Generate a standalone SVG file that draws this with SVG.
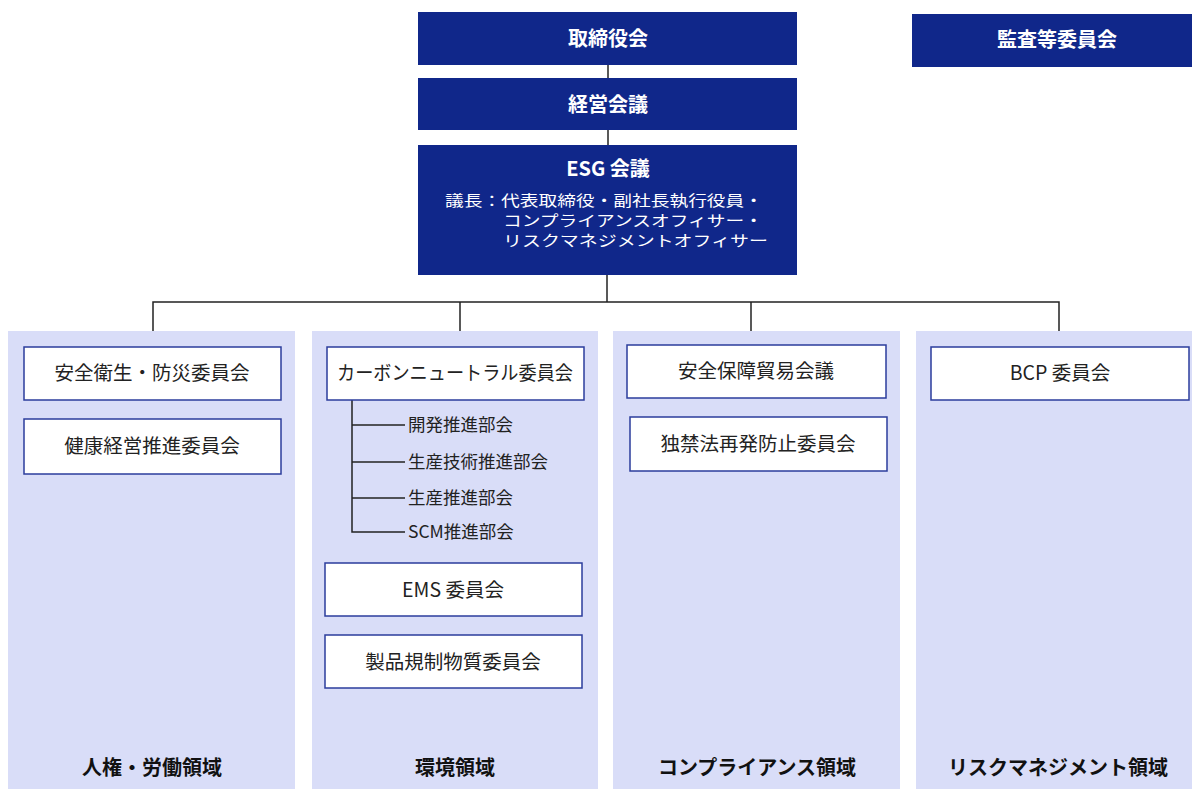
<svg xmlns="http://www.w3.org/2000/svg" width="1192" height="789" viewBox="0 0 1192 789">
<style>
.top{fill:#10278A}
.tt{font-family:"Noto Sans CJK JP",sans-serif;font-weight:bold;fill:#fff;text-anchor:middle}
.tw{font-family:"Noto Sans CJK JP",sans-serif;fill:#fff}
.panel{fill:#D9DDF8}
.box{fill:#fff;stroke:#2B3D9C;stroke-width:1.5}
.bt{font-family:"Noto Sans CJK JP",sans-serif;font-size:19.5px;fill:#222;text-anchor:middle}
.st{font-family:"Noto Sans CJK JP",sans-serif;font-size:17.5px;fill:#222}
.ft{font-family:"Noto Sans CJK JP",sans-serif;font-size:20px;font-weight:bold;fill:#111;text-anchor:middle}
.ln{stroke:#222;stroke-width:1.5;fill:none}
</style>
<rect width="1192" height="789" fill="#fff"/>
<g id="panels">
<rect class="panel" x="8" y="331" width="287" height="458"/>
<rect class="panel" x="312" y="331" width="286" height="458"/>
<rect class="panel" x="613" y="331" width="287" height="458"/>
<rect class="panel" x="916" y="331" width="276" height="458"/>
</g>
<g id="connectors">
<line class="ln" x1="608" y1="65" x2="608" y2="78"/>
<line class="ln" x1="608" y1="130" x2="608" y2="145"/>
<line class="ln" x1="607" y1="275" x2="607" y2="302" stroke-width="2.5"/>
<polyline class="ln" points="153,331 153,302 1059,302 1059,331"/>
<line class="ln" x1="460" y1="302" x2="460" y2="331"/>
<line class="ln" x1="751" y1="302" x2="751" y2="331"/>
<polyline class="ln" points="352,400 352,532 405,532"/>
<line class="ln" x1="352" y1="425" x2="405" y2="425"/>
<line class="ln" x1="352" y1="462" x2="405" y2="462"/>
<line class="ln" x1="352" y1="498" x2="405" y2="498"/>
</g>
<g id="board">
<rect class="top" x="418" y="12" width="379" height="53"/>
<text class="tt" x="608" y="46" font-size="20">取締役会</text>
</g>
<g id="audit">
<rect class="top" x="912" y="14" width="280" height="53"/>
<text class="tt" x="1057" y="47" font-size="20">監査等委員会</text>
</g>
<g id="mgmt">
<rect class="top" x="418" y="78" width="379" height="52"/>
<text class="tt" x="608" y="112" font-size="20">経営会議</text>
</g>
<g id="esg">
<rect class="top" x="418" y="145" width="379" height="130"/>
<text class="tt" x="608" y="176" font-size="20">ESG 会議</text>
<text class="tw" x="445" y="206" font-size="15" textLength="318" lengthAdjust="spacingAndGlyphs">議長：代表取締役・副社長執行役員・</text>
<text class="tw" x="503" y="226" font-size="15" textLength="260" lengthAdjust="spacingAndGlyphs">コンプライアンスオフィサー・</text>
<text class="tw" x="503" y="246" font-size="15" textLength="265" lengthAdjust="spacingAndGlyphs">リスクマネジメントオフィサー</text>
</g>
<g id="n1">
<rect class="box" x="24" y="347" width="257" height="53"/>
<text class="bt" x="152" y="380">安全衛生・防災委員会</text>
</g>
<g id="n2">
<rect class="box" x="24" y="419" width="257" height="55"/>
<text class="bt" x="152" y="453">健康経営推進委員会</text>
</g>
<g id="n3">
<rect class="box" x="327" y="347" width="257" height="53"/>
<text class="bt" x="455" y="380" textLength="236" lengthAdjust="spacingAndGlyphs">カーボンニュートラル委員会</text>
</g>
<g id="sub">
<text class="st" x="408" y="431">開発推進部会</text>
<text class="st" x="408" y="468">生産技術推進部会</text>
<text class="st" x="408" y="504">生産推進部会</text>
<text class="st" x="408" y="538">SCM推進部会</text>
</g>
<g id="n4">
<rect class="box" x="325" y="563" width="257" height="53"/>
<text class="bt" x="453" y="597">EMS 委員会</text>
</g>
<g id="n5">
<rect class="box" x="325" y="635" width="257" height="53"/>
<text class="bt" x="453" y="669">製品規制物質委員会</text>
</g>
<g id="n6">
<rect class="box" x="627" y="345" width="259" height="53"/>
<text class="bt" x="756" y="378">安全保障貿易会議</text>
</g>
<g id="n7">
<rect class="box" x="630" y="417" width="257" height="54"/>
<text class="bt" x="758" y="451">独禁法再発防止委員会</text>
</g>
<g id="n8">
<rect class="box" x="931" y="347" width="258" height="53"/>
<text class="bt" x="1060" y="380">BCP 委員会</text>
</g>
<g id="footer">
<text class="ft" x="152" y="775">人権・労働領域</text>
<text class="ft" x="455" y="775">環境領域</text>
<text class="ft" x="757" y="775">コンプライアンス領域</text>
<text class="ft" x="1058" y="775">リスクマネジメント領域</text>
</g>
</svg>
